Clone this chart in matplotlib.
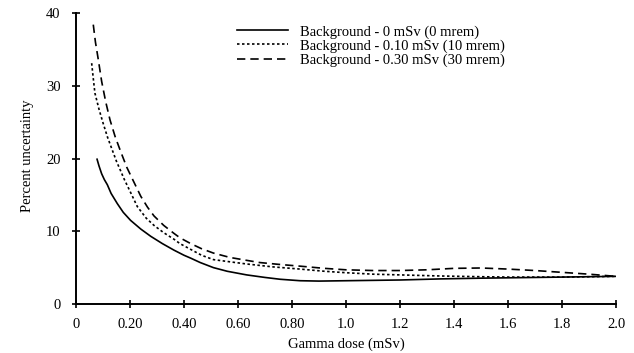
import matplotlib
matplotlib.use("Agg")
import matplotlib.pyplot as plt

plt.rcParams['font.family'] = ['Liberation Serif', 'DejaVu Serif']

# Gamma dose (mSv) and percent uncertainty
dose_0 = [0.078, 0.085, 0.095, 0.105, 0.116, 0.13, 0.153, 0.175, 0.202, 0.24,
          0.277, 0.32, 0.363, 0.40, 0.425, 0.46, 0.509, 0.56, 0.632, 0.70,
          0.756, 0.83, 0.90, 1.0, 1.1, 1.2, 1.35, 1.5, 1.6, 1.8, 2.0]
unc_0 = [19.9, 19.0, 17.9, 17.1, 16.4, 15.2, 13.8, 12.6, 11.5, 10.3,
         9.3, 8.3, 7.4, 6.7, 6.3, 5.7, 5.0, 4.5, 4.0, 3.65,
         3.4, 3.2, 3.15, 3.2, 3.25, 3.3, 3.45, 3.55, 3.6, 3.7, 3.8]

dose_10 = [0.058, 0.064, 0.07, 0.085, 0.10, 0.117, 0.134, 0.15, 0.163, 0.178,
           0.20, 0.227, 0.26, 0.289, 0.325, 0.363, 0.385, 0.425, 0.465, 0.509,
           0.57, 0.632, 0.73, 0.83, 0.92, 1.0, 1.1, 1.2, 1.35, 1.5, 1.6, 1.8, 2.0]
unc_10 = [33.1, 31.0, 29.0, 26.8, 24.9, 22.9, 21.2, 19.6, 18.5, 17.2,
          15.5, 13.4, 11.8, 10.8, 9.8, 8.9, 8.3, 7.5, 6.7, 6.1,
          5.8, 5.5, 5.1, 4.8, 4.5, 4.3, 4.1, 4.0, 3.85, 3.75, 3.7, 3.7, 3.8]

dose_30 = [0.064, 0.072, 0.083, 0.095, 0.11, 0.126, 0.145, 0.165, 0.188, 0.21,
           0.24, 0.265, 0.289, 0.325, 0.363, 0.385, 0.425, 0.465, 0.509, 0.57,
           0.632, 0.68, 0.75, 0.83, 0.92, 1.0, 1.1, 1.2, 1.3, 1.4, 1.5, 1.6,
           1.7, 1.8, 1.9, 2.0]
unc_30 = [38.4, 36.0, 33.5, 30.6, 27.8, 25.3, 23.0, 21.0, 18.8, 17.1,
          14.8, 13.3, 12.1, 10.8, 9.7, 9.1, 8.3, 7.6, 7.0, 6.4,
          6.0, 5.7, 5.45, 5.2, 4.9, 4.7, 4.6, 4.6, 4.7, 4.9, 4.95, 4.8,
          4.6, 4.35, 4.1, 3.8]

labels = ['Background - 0 mSv (0 mrem)',
          'Background - 0.10 mSv (10 mrem)',
          'Background - 0.30 mSv (30 mrem)']

xticks = [0, 0.2, 0.4, 0.6, 0.8, 1.0, 1.2, 1.4, 1.6, 1.8, 2.0]
xticklabels = ['0', '0.20', '0.40', '0.60', '0.80', '1.0', '1.2', '1.4', '1.6', '1.8', '2.0']
yticks = [0, 10, 20, 30, 40]

fig = plt.figure(figsize=(6.34, 3.53), dpi=100)
ax = fig.add_axes([76 / 634, 1 - 304 / 353, 540 / 634, 291 / 353])

ax.plot(dose_0, unc_0, color='black', lw=1.2, ls='-', label=labels[0])
ax.plot(dose_10, unc_10, color='black', lw=1.2, ls=(0, (1.5, 1.5)), label=labels[1])
ax.plot(dose_30, unc_30, color='black', lw=1.2, ls=(0, (5, 3)), label=labels[2])

ax.set_xlim(0, 2.0)
ax.set_ylim(0, 40)
ax.set_xticks(xticks)
ax.set_xticklabels(xticklabels)
ax.set_yticks(yticks)

for s in ['top', 'right']:
    ax.spines[s].set_visible(False)
for s in ['left', 'bottom']:
    ax.spines[s].set_linewidth(1.4)
ax.tick_params(direction='inout', length=6, width=1.2, labelsize=10.5)
ax.tick_params(axis='x', pad=7)
ax.tick_params(axis='y', pad=8)

ax.set_xlabel('Gamma dose (mSv)', fontsize=10.5)
ax.set_ylabel('Percent uncertainty', fontsize=10.5)
ax.xaxis.set_label_coords(0.5, -0.115)
ax.yaxis.set_label_coords(-0.078, 0.51)

ax.legend(loc='upper left', bbox_to_anchor=(0.298, 0.958), frameon=False,
          fontsize=10.5, handlelength=3.5, handletextpad=0.8,
          labelspacing=0.04, borderpad=0, borderaxespad=0)

fig.savefig('out.png', dpi=100)
